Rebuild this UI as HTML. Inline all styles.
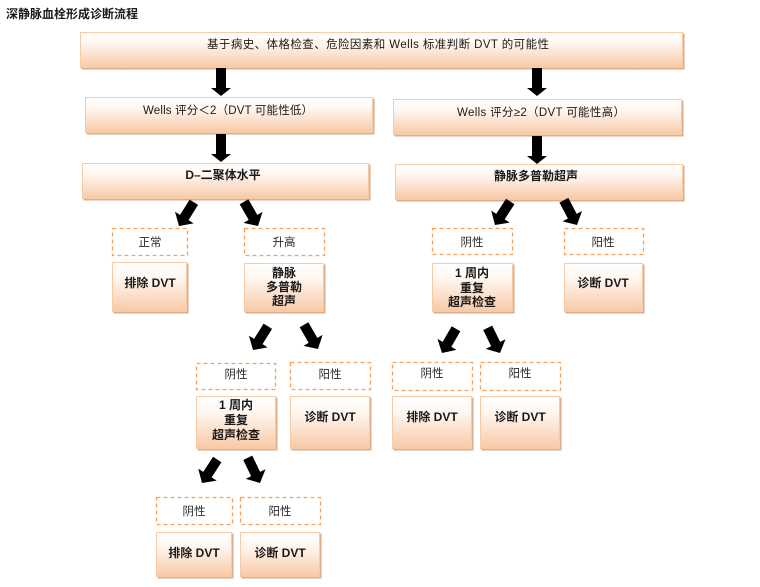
<!DOCTYPE html>
<html><head><meta charset="utf-8">
<style>
html,body{margin:0;padding:0;background:#fff;}
svg{display:block;}
text{font-family:"Liberation Sans","Noto Sans CJK SC",sans-serif;fill:#1a1a1a;}
.b{font-weight:bold;font-size:12px;}
.n{font-size:11.5px;fill:#2a2a2a;}
</style></head>
<body>
<svg width="760" height="587" viewBox="0 0 760 587" xmlns="http://www.w3.org/2000/svg">
<defs>
<linearGradient id="g" x1="0" y1="0" x2="0" y2="1">
<stop offset="0" stop-color="#ffffff"/>
<stop offset="0.3" stop-color="#fff7f1"/>
<stop offset="1" stop-color="#f8c9a6"/>
</linearGradient>
<path id="ar" d="M -5,-28 L 5,-28 L 5,-10 L 11,-10 L 0,0 L -11,-10 L -5,-10 Z" fill="#000"/>
<path id="av" d="M -5,-28 L 5,-28 L 5,-8 L 10,-8 L 0,0 L -10,-8 L -5,-8 Z" fill="#000"/>
</defs>

<text x="6" y="18" class="b">深静脉血栓形成诊断流程</text>

<!-- solid boxes: shadow + box -->
<g fill="#dcae8c">
<rect x="81.5" y="33.5" width="603" height="36"/>
<rect x="86.5" y="98.5" width="288" height="36"/>
<rect x="394.5" y="100.5" width="289" height="36"/>
<rect x="83.5" y="164.5" width="287" height="36"/>
<rect x="396.5" y="165.5" width="288" height="36"/>
<rect x="113.5" y="263.5" width="75" height="50"/>
<rect x="245.5" y="264.5" width="80" height="49"/>
<rect x="433.5" y="264.5" width="81" height="49"/>
<rect x="565.5" y="264.5" width="79" height="49"/>
<rect x="197.5" y="397.5" width="80" height="53"/>
<rect x="291.5" y="397.5" width="80" height="53"/>
<rect x="393.5" y="397.5" width="80" height="53"/>
<rect x="481.5" y="397.5" width="80" height="53"/>
<rect x="157.5" y="533.5" width="76" height="45"/>
<rect x="241.5" y="533.5" width="80" height="45"/>
</g>
<g fill="url(#g)" stroke="#f6cba8" stroke-width="1">
<rect x="80.5" y="32.5" width="602" height="35"/>
<rect x="85.5" y="97.5" width="287" height="35"/>
<rect x="393.5" y="99.5" width="288" height="35"/>
<rect x="82.5" y="163.5" width="286" height="35"/>
<rect x="395.5" y="164.5" width="287" height="35"/>
<rect x="112.5" y="262.5" width="74" height="49"/>
<rect x="244.5" y="263.5" width="79" height="48"/>
<rect x="432.5" y="263.5" width="80" height="48"/>
<rect x="564.5" y="263.5" width="78" height="48"/>
<rect x="196.5" y="396.5" width="79" height="52"/>
<rect x="290.5" y="396.5" width="79" height="52"/>
<rect x="392.5" y="396.5" width="79" height="52"/>
<rect x="480.5" y="396.5" width="79" height="52"/>
<rect x="156.5" y="532.5" width="75" height="44"/>
<rect x="240.5" y="532.5" width="79" height="44"/>
</g>

<!-- dashed boxes -->
<g fill="#fff" stroke="#f7a25c" stroke-width="1.3" stroke-dasharray="4 3">
<rect x="112.5" y="228.5" width="75" height="27"/>
<rect x="244.5" y="228.5" width="80" height="27"/>
<rect x="432.5" y="228.5" width="80" height="26"/>
<rect x="564.5" y="228.5" width="79" height="26"/>
<rect x="196.5" y="363.5" width="79" height="26"/>
<rect x="290.5" y="362.5" width="80" height="27"/>
<rect x="392.5" y="362.5" width="80" height="28"/>
<rect x="480.5" y="362.5" width="80" height="28"/>
<rect x="156.5" y="497.5" width="76" height="27"/>
<rect x="240.5" y="497.5" width="80" height="27"/>
</g>

<!-- arrows -->
<use href="#av" transform="translate(221,96)"/>
<use href="#av" transform="translate(537,96)"/>
<use href="#av" transform="translate(221,162)"/>
<use href="#av" transform="translate(537,164)"/>
<use href="#ar" transform="translate(179,226) rotate(32)"/>
<use href="#ar" transform="translate(258,226) rotate(-30)"/>
<use href="#ar" transform="translate(495,225) rotate(33)"/>
<use href="#ar" transform="translate(577,225) rotate(-28)"/>
<use href="#ar" transform="translate(253,350) rotate(32)"/>
<use href="#ar" transform="translate(318,349) rotate(-30)"/>
<use href="#ar" transform="translate(442,353) rotate(30)"/>
<use href="#ar" transform="translate(500,353) rotate(-26)"/>
<use href="#ar" transform="translate(202,483) rotate(33)"/>
<use href="#ar" transform="translate(260,483) rotate(-26)"/>

<!-- main texts -->
<text x="207" y="48" font-size="11.5" textLength="342" lengthAdjust="spacing">基于病史、体格检查、危险因素和 Wells 标准判断 DVT 的可能性</text>
<text x="143" y="114" font-size="11.5" textLength="170" lengthAdjust="spacing">Wells 评分＜2（DVT 可能性低）</text>
<text x="457" y="116" font-size="11.5" textLength="168" lengthAdjust="spacing">Wells 评分≥2（DVT 可能性高）</text>
<text x="223" y="179" class="b" text-anchor="middle">D–二聚体水平</text>
<text x="536" y="180" class="b" text-anchor="middle">静脉多普勒超声</text>

<!-- dashed labels -->
<g class="n" text-anchor="middle">
<text x="150" y="246" class="n">正常</text>
<text x="284" y="246" class="n">升高</text>
<text x="472" y="246" class="n">阴性</text>
<text x="603" y="246" class="n">阳性</text>
<text x="236" y="378" class="n">阴性</text>
<text x="330" y="378" class="n">阳性</text>
<text x="432" y="377" class="n">阴性</text>
<text x="520" y="377" class="n">阳性</text>
<text x="194" y="515" class="n">阴性</text>
<text x="280" y="515" class="n">阳性</text>
</g>

<!-- solid box texts -->
<g text-anchor="middle">
<text x="150" y="287" class="b">排除 DVT</text>
<text x="284" y="277" class="b">静脉</text>
<text x="284" y="291" class="b">多普勒</text>
<text x="284" y="305" class="b">超声</text>
<text x="472" y="277" class="b">1 周内</text>
<text x="472" y="292" class="b">重复</text>
<text x="472" y="306" class="b">超声检查</text>
<text x="603" y="287" class="b">诊断 DVT</text>
<text x="236" y="409" class="b">1 周内</text>
<text x="236" y="424" class="b">重复</text>
<text x="236" y="439" class="b">超声检查</text>
<text x="330" y="421" class="b">诊断 DVT</text>
<text x="432" y="421" class="b">排除 DVT</text>
<text x="520" y="421" class="b">诊断 DVT</text>
<text x="194" y="557" class="b">排除 DVT</text>
<text x="280" y="557" class="b">诊断 DVT</text>
</g>
</svg>
</body></html>
